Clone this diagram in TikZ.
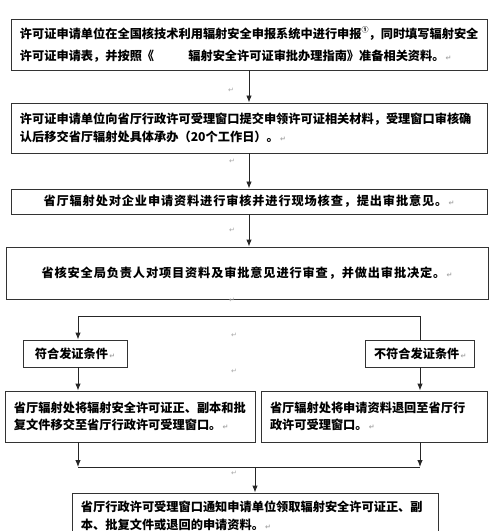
\documentclass[tikz,border=0pt]{standalone}
\usepackage{fontspec}
\newfontfamily\cjk{Noto Sans CJK SC}
\newfontfamily\cjkw{Noto Sans CJK SC}[LetterSpace=7]
\newfontfamily\symf{DejaVu Sans}
\usetikzlibrary{arrows.meta}
\newcommand{\parmk}{{\symf\fontsize{7bp}{7bp}\selectfont\color{black!35}\,↵}}
\newcommand{\noteone}{\raisebox{0.5em}{\fontsize{7bp}{7bp}\selectfont ①}}
\tikzset{
  box/.style={rectangle, draw=black!80, line width=0.9bp, inner xsep=9bp, inner ysep=2bp,
              font=\cjk\bfseries\fontsize{12.2bp}{17.5bp}\selectfont, align=left},
  cbox/.style={box, align=center},
  wbox/.style={cbox, font=\cjkw\bfseries\fontsize{12.2bp}{17.5bp}\selectfont},
  ed/.style={-{Latex[length=7bp,width=5.5bp]}, line width=0.9bp, draw=black!85},
  ln/.style={line width=0.9bp, draw=black!85},
  pmk/.style={inner sep=0pt, font=\symf\fontsize{7bp}{7bp}\selectfont, text=black!35}
}

\begin{document}
\begin{tikzpicture}[x=1bp, y=-1bp]
\useasboundingbox[fill=white] (0,0) rectangle (500,531);
\node[box, text width=458bp, minimum height=51bp,
      font=\cjk\bfseries\fontsize{12.2bp}{22bp}\selectfont] (apply) at (249,44.5)
  {许可证申请单位在全国核技术利用辐射安全申报系统中进行申报\noteone，同时填写辐射安全\\
   许可证申请表，并按照《\hspace{2.8em}辐射安全许可证审批办理指南》准备相关资料。\parmk};
\node[box, text width=458bp, minimum height=50bp] (submit) at (249,128)
  {许可证申请单位向省厅行政许可受理窗口提交申领许可证相关材料，受理窗口审核确\\
   认后移交省厅辐射处具体承办（20个工作日）。\parmk};
\node[wbox, text width=458bp, minimum height=25bp] (review) at (249,201.5)
  {省厅辐射处对企业申请资料进行审核并进行现场核查，提出审批意见。\parmk};
\node[wbox, text width=464bp, minimum height=52bp] (decide) at (247,273)
  {省核安全局负责人对项目资料及审批意见进行审查，并做出审批决定。\parmk};
\node[cbox, text width=86bp, minimum height=27bp] (ok) at (75,353.5)
  {符合发证条件\parmk};
\node[cbox, text width=91bp, minimum height=27bp] (nok) at (419.5,353.5)
  {不符合发证条件\parmk};
\node[box, text width=232bp, minimum height=51bp] (issue) at (130,416.5)
  {省厅辐射处将辐射安全许可证正、副本和批\\
   复文件移交至省厅行政许可受理窗口。\parmk};
\node[box, text width=208bp, minimum height=51bp] (back) at (374,416.5)
  {省厅辐射处将申请资料退回至省厅行\\
   政许可受理窗口。\parmk};
\node[box, text width=348bp, minimum height=46bp] (notify) at (255,516)
  {省厅行政许可受理窗口通知申请单位领取辐射安全许可证正、副\\
   本、批复文件或退回的申请资料。\parmk};
\node[pmk] (p1) at (231,90)  {↵};
\node[pmk] (p2) at (232,161) {↵};
\node[pmk] (p3) at (232,230) {↵};
\node[pmk] (p4) at (232,300) {↵};
\node[pmk] (p5) at (234,335) {↵};
\node[pmk] (p6) at (234,371) {↵};
\node[pmk] (p7) at (234,473) {↵};
\coordinate (sl) at (78,316);
\coordinate (sr) at (420,316);
\coordinate (jl) at (78,467);
\coordinate (jr) at (420,467);
\draw[ed] (apply) -- (submit);
\draw[ed] (submit) -- (review);
\draw[ed] (review.south) -- (review.south |- decide.north);
\draw[ln] (sl) -- (sr);
\draw[ed] (sl) -- (sl |- ok.north);
\draw[ln] (sr) -- (sr |- nok.north);
\draw[ed] (sl |- ok.south) -- (sl |- issue.north);
\draw[ed] (sr |- nok.south) -- (sr |- back.north);
\draw[ed] (sl |- issue.south) -- (jl);
\draw[ed] (sr |- back.south) -- (jr);
\draw[ln] (jl) -- (jr);
\draw[ed] (notify.north |- jl) -- (notify.north);
\end{tikzpicture}
\end{document}
